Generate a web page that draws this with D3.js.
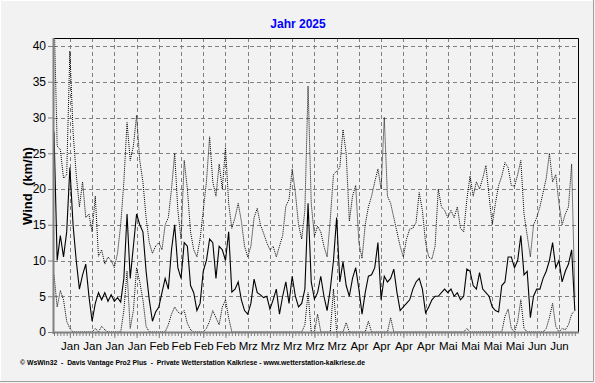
<!DOCTYPE html>
<html>
<head>
<meta charset="utf-8">
<script src="https://cdn.jsdelivr.net/npm/d3@7"></script>
<style>
  body { margin: 0; background: #f2f2f2; }
  svg text { font-family: "Liberation Sans", Arial, sans-serif; }
</style>
</head>
<body>
<svg id="chart" width="595" height="383"></svg>
<script>

// daily values from 1 Jan 2025, km/h
let startDay = new Date(2025, 0, 1);

let windMean = [
    28, 10, 13.5, 10.5, 14, 23, 15, 10, 6, 8, 9.5, 5, 1.5, 4, 5.5, 4.5, 5.5, 4.3, 5.2, 4.3,
    4.8, 4.2, 7.5, 16.5, 7.5, 12, 16.5, 15, 14, 8.5, 4.5, 1.5, 2.8, 3.5, 5.5, 7.5, 6, 11.5, 15, 9,
    7.5, 12.5, 12, 6.5, 5.5, 3, 4, 8.5, 10, 13, 12.5, 7.5, 12, 11.5, 10, 14, 5.6, 6, 7, 4.5,
    3, 2.5, 4, 7.4, 5.5, 5.2, 4.8, 5, 3.2, 4.5, 6, 2.5, 5, 7, 4, 7.8, 5, 3.5, 4, 6,
    18, 7, 4.6, 5.5, 7.8, 5, 3, 6, 10, 16, 7, 9.8, 6.5, 5, 7.5, 9, 6, 2.5, 5.5, 7.8,
    8, 9, 12.5, 4.5, 7.8, 7, 7.5, 8.8, 5.5, 3, 3.5, 4, 4.5, 6, 7, 7.5, 6, 2.7, 3.5, 4.5,
    5, 5, 5.5, 6, 5.5, 6, 5, 5.5, 4.5, 5, 8.8, 8.5, 6.5, 6, 8.3, 6, 5.5, 5, 3.5, 3,
    2.8, 6.5, 7, 10.5, 10.5, 9, 10, 13.5, 8, 8.5, 2, 5, 6, 6, 7.5, 8.5, 10, 12.5, 9, 10,
    7, 8.5, 9.5, 11.5, 3
];

let windMax = [
    45, 26, 25.5, 21.5, 22, 39.3, 28, 22, 17.5, 21, 16, 16.5, 14, 19, 10.6, 11.5, 9.5, 10.5, 10, 9,
    11, 15, 21, 29.3, 24, 26, 30.3, 24, 21, 16, 12.5, 11, 12, 12.5, 11.5, 15, 16, 20, 25, 17,
    13, 24, 20, 14, 11.5, 10.5, 13, 17, 21, 27.3, 21, 19, 23.5, 20, 25.8, 18, 14.5, 16, 18, 15.5,
    12, 10.5, 12, 16, 17.3, 15, 13.8, 12.5, 11.5, 12, 10.5, 12, 13.5, 17.6, 18.5, 22.8, 19.5, 15, 13, 17,
    34.4, 18, 13.4, 14.8, 14, 12, 10.5, 15.8, 22, 22.5, 23, 28.3, 25, 15.5, 19, 20.5, 12.5, 10.3, 15, 17.5,
    19, 21, 22.8, 20, 30, 19, 18, 16, 14, 12, 10.5, 13, 14.4, 14.5, 15.3, 19.5, 17, 12.5, 10.5, 10.2,
    12, 20, 17.5, 17, 16, 17, 16, 17.5, 14.5, 14, 18.5, 21.8, 19, 21, 20, 21.5, 23.3, 19, 15, 18,
    20.5, 21.8, 23.7, 23, 20.5, 20.4, 22, 24, 16.5, 13.5, 10.5, 15, 16, 17.5, 19.5, 21.5, 25, 21, 22, 18,
    15, 16.5, 17.5, 23.5, 5
];

let windMin = [
    8, 3.5, 5.8, 4.5, 1.5, 0.5, 0, 0, 0, 0, 0, 0, 0, 0.5, 0, 0.8, 0.3, 0, 0, 0,
    0, 0, 3, 8.5, 0.5, 3, 9, 7, 4.5, 0.8, 0, 0, 0, 0, 0, 0, 1, 2.5, 3.5, 2.8,
    2.5, 3, 1.2, 0.3, 0, 0, 0, 0, 0.5, 1.5, 3, 2, 1, 3.5, 4.5, 2, 0, 0, 0, 0,
    0, 0, 0, 0, 0, 0, 0, 0, 0, 0, 0, 0, 0, 0, 0, 0, 0, 0, 0, 1,
    5.5, 0, 0, 2.5, 0, 0, 0, 0, 6, 0, 0, 0, 1.3, 0, 0, 0, 0, 0, 0, 1.5,
    0, 0, 0, 0, 0, 0, 2, 0, 0, 0, 0, 0, 0, 0, 0, 0, 0, 0, 0, 0,
    0, 0, 0, 0, 0, 0, 0, 0, 0, 0, 0.5, 0, 0, 0, 0, 0, 0, 0, 0, 0,
    0, 0, 2.2, 3.2, 0.5, 0, 1.5, 4.5, 0.5, 0, 0, 0, 0, 0, 0, 0.5, 2, 4, 0.8, 0,
    0.5, 0.3, 1, 2.5, 3
];

let monthNames = ['Jan', 'Feb', 'Mrz', 'Apr', 'Mai', 'Jun', 'Jul', 'Aug', 'Sep', 'Okt', 'Nov', 'Dez'];
let yTicks = [0, 5, 10, 15, 20, 25, 30, 35, 40];

let titleText = 'Jahr 2025';
let yLabel = 'Wind  (km/h)';
let footerText = '\u00a9 WsWin32  -  Davis Vantage Pro2 Plus  -  Private Wetterstation Kalkriese - www.wetterstation-kalkriese.de';

let plot = {left: 54, right: 578, top: 38, bottom: 332};

let days = windMean.map((v, i) => d3.timeDay.offset(startDay, i));
let endDay = d3.timeDay.offset(startDay, 165);

let x = d3.scaleTime()
    .domain([startDay, endDay])
    .range([plot.left, plot.right]);

let y = d3.scaleLinear()
    .domain([0, 40])
    .range([plot.bottom, 46]);

let svg = d3.select('#chart');

// window frame
svg.append('rect')
    .attr('x', 0).attr('y', 0)
    .attr('width', 595).attr('height', 383)
    .attr('fill', '#f2f2f2');
svg.append('path')
    .attr('d', 'M0.5,382 V0.5 H593')
    .attr('stroke', '#ffffff').attr('fill', 'none');
svg.append('path')
    .attr('d', 'M593.5,0 V381.5 H0')
    .attr('stroke', '#a0a0a0').attr('fill', 'none');

svg.append('defs')
    .append('clipPath').attr('id', 'plotclip')
    .append('rect')
    .attr('x', plot.left).attr('y', plot.top)
    .attr('width', plot.right - plot.left)
    .attr('height', plot.bottom - plot.top);

let weeks = d3.timeMonday.range(d3.timeDay.offset(startDay, 1), endDay);

// grid
let grid = svg.append('g')
    .attr('stroke', '#808080')
    .attr('stroke-dasharray', '4,3')
    .attr('shape-rendering', 'crispEdges');

grid.selectAll('.hgrid')
    .data(yTicks.filter(t => t > 0))
    .enter()
    .append('line')
    .attr('x1', plot.left).attr('x2', plot.right)
    .attr('y1', d => Math.round(y(d)) + 0.5)
    .attr('y2', d => Math.round(y(d)) + 0.5);

grid.selectAll('.vgrid')
    .data(weeks)
    .enter()
    .append('line')
    .attr('y1', plot.top).attr('y2', plot.bottom)
    .attr('x1', d => Math.round(x(d)) + 0.5)
    .attr('x2', d => Math.round(x(d)) + 0.5);

// series
let lineGen = d3.line()
    .x((d, i) => x(days[i]))
    .y(d => y(d));

let series = svg.append('g').attr('clip-path', 'url(#plotclip)');

series.append('path')
    .datum(windMax)
    .attr('d', lineGen)
    .attr('fill', 'none')
    .attr('stroke', '#000')
    .attr('stroke-width', 1)
    .attr('stroke-dasharray', '1,1');

series.append('path')
    .datum(windMin)
    .attr('d', lineGen)
    .attr('fill', 'none')
    .attr('stroke', '#000')
    .attr('stroke-width', 1)
    .attr('stroke-dasharray', '1,1');

series.append('path')
    .datum(windMean)
    .attr('d', lineGen)
    .attr('fill', 'none')
    .attr('stroke', '#000')
    .attr('stroke-width', 1.1);

// plot frame (top & right black, axes gray)
svg.append('path')
    .attr('d', `M${plot.left},${plot.top + 0.5} H${plot.right + 0.5} V${plot.bottom}`)
    .attr('stroke', '#000').attr('fill', 'none');

// y axis
let yAxis = d3.axisLeft(y)
    .tickValues(yTicks)
    .tickSize(5)
    .tickPadding(2)
    .tickFormat(d3.format('d'));

let yg = svg.append('g')
    .attr('transform', `translate(${plot.left - 1},0)`)
    .call(yAxis);
yg.select('.domain').remove();
yg.selectAll('line').attr('stroke', '#808080');
yg.selectAll('text')
    .attr('font-size', 12)
    .attr('fill', '#000')
    .attr('font-family', '"Liberation Sans", Arial, sans-serif');

// x axis: daily minor ticks, weekly labels
let xMinor = d3.axisBottom(x)
    .tickValues(days)
    .tickSize(3)
    .tickFormat('');
let xmg = svg.append('g')
    .attr('transform', `translate(0,${plot.bottom + 1})`)
    .call(xMinor);
xmg.select('.domain').remove();
xmg.selectAll('line').attr('stroke', '#808080');

let xAxis = d3.axisBottom(x)
    .tickValues(weeks)
    .tickSize(5)
    .tickPadding(4)
    .tickFormat(d => monthNames[d.getMonth()]);
let xg = svg.append('g')
    .attr('transform', `translate(0,${plot.bottom + 1})`)
    .call(xAxis);
xg.select('.domain').remove();
xg.selectAll('line').attr('stroke', '#808080');
xg.selectAll('text')
    .attr('font-size', 11.5)
    .attr('fill', '#000')
    .attr('font-family', '"Liberation Sans", Arial, sans-serif');

// thick gray axis lines
svg.append('line')
    .attr('x1', plot.left - 0.5).attr('x2', plot.left - 0.5)
    .attr('y1', plot.top).attr('y2', plot.bottom + 2)
    .attr('stroke', '#808080').attr('stroke-width', 2);
svg.append('line')
    .attr('x1', plot.left - 1).attr('x2', plot.right + 1)
    .attr('y1', plot.bottom + 0.5).attr('y2', plot.bottom + 0.5)
    .attr('stroke', '#808080').attr('stroke-width', 2);

// texts
svg.append('text')
    .attr('x', 298).attr('y', 28)
    .attr('text-anchor', 'middle')
    .attr('font-size', 12)
    .attr('font-weight', 'bold')
    .attr('fill', '#0000ff')
    .text(titleText);

svg.append('text')
    .attr('transform', 'translate(32,186) rotate(-90)')
    .attr('text-anchor', 'middle')
    .attr('font-size', 13)
    .attr('font-weight', 'bold')
    .attr('fill', '#000')
    .attr('xml:space', 'preserve')
    .text(yLabel);

svg.append('text')
    .attr('x', 20).attr('y', 365)
    .attr('font-size', 7)
    .attr('font-weight', 'bold')
    .attr('textLength', 345)
    .attr('lengthAdjust', 'spacingAndGlyphs')
    .attr('fill', '#000')
    .attr('xml:space', 'preserve')
    .text(footerText);

</script>
</body>
</html>
